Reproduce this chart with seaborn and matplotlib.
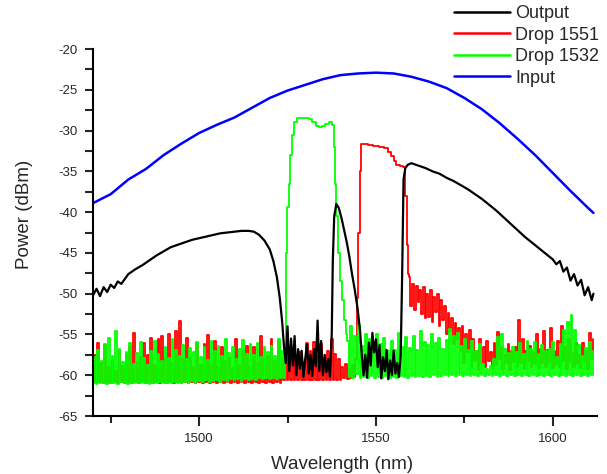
import numpy as np
import matplotlib
matplotlib.use("Agg")
import matplotlib.pyplot as plt
from matplotlib.ticker import MultipleLocator
from matplotlib.lines import Line2D
import seaborn as sns

# ---------------- data ----------------
# Input (blue)
in_wl = [1470, 1475, 1480, 1485, 1490, 1495, 1500, 1505, 1510, 1515, 1520, 1525, 1530,
         1535, 1540, 1545, 1550, 1555, 1560, 1565, 1570, 1575, 1580, 1585, 1590, 1595,
         1600, 1605, 1610, 1611.5]
in_pw = [-38.9, -37.8, -36.0, -34.7, -33.0, -31.6, -30.3, -29.3, -28.4, -27.2, -26.0, -25.1, -24.4,
         -23.7, -23.2, -23.0, -22.9, -23.0, -23.4, -24.0, -24.8, -26.0, -27.4, -29.1, -31.0, -33.0,
         -35.2, -37.4, -39.5, -40.1]

# Output (black)
out_wl = [1470, 1471, 1472, 1473, 1474, 1475, 1476, 1477, 1478, 1480, 1482, 1484, 1486, 1488,
          1490, 1492, 1494, 1496, 1498, 1500, 1502, 1504, 1506, 1508, 1510, 1512, 1514, 1515.5,
          1517, 1518.5, 1520, 1521, 1522, 1522.8, 1523.5, 1524,
          1524.5, 1525, 1525.5, 1526, 1526.5, 1527, 1527.5, 1528, 1528.5, 1529, 1529.5, 1530,
          1530.5, 1531, 1531.5, 1532, 1532.5, 1533, 1533.5, 1534, 1534.5, 1535, 1535.5, 1536,
          1536.5, 1537, 1537.5,
          1537.8, 1538.2, 1538.8, 1539.5, 1540.3, 1541, 1541.8, 1542.5, 1543.2, 1544, 1544.8,
          1545.5, 1546,
          1546.5, 1547, 1547.5, 1548, 1548.5, 1549, 1549.5, 1550, 1550.5, 1551, 1551.5, 1552,
          1552.5, 1553, 1553.5, 1554, 1554.5, 1555, 1555.5, 1556, 1556.5, 1557,
          1557.4, 1557.8, 1558.3, 1559, 1560, 1562, 1564, 1566, 1568, 1570, 1572, 1574, 1576,
          1578, 1580, 1582, 1584, 1586, 1588, 1590, 1592, 1594, 1596, 1598, 1600, 1601, 1602,
          1603, 1604, 1605, 1606, 1607, 1608, 1609, 1610, 1611, 1611.5]
out_pw = [-50.2, -49.4, -50.3, -49.2, -49.8, -48.9, -49.3, -48.5, -48.8, -47.6, -47.0, -46.5, -45.9, -45.3,
          -44.8, -44.3, -44.0, -43.7, -43.4, -43.2, -43.0, -42.8, -42.6, -42.5, -42.4, -42.3, -42.3, -42.4,
          -42.8, -43.5, -44.6, -46.0, -48.0, -50.5, -53.5, -56.5,
          -58.5, -54.0, -59.5, -55.5, -58.8, -55.2, -60.0, -56.8, -59.2, -57.0, -60.2, -58.0,
          -56.2, -59.8, -57.5, -60.1, -56.8, -58.9, -53.3, -59.5, -55.8, -60.0, -57.5, -59.6,
          -58.0, -60.2, -55.0,
          -46.0, -40.5, -39.0, -39.5, -40.8, -42.2, -43.8, -45.5, -47.5, -49.5, -51.8,
          -54.5, -57.5,
          -60.0, -57.5, -60.3, -56.0, -58.8, -54.8, -57.2, -55.6, -59.0, -56.3, -60.4, -57.8,
          -59.5, -56.9, -60.5, -58.2, -60.0, -57.0, -59.8, -58.5, -60.2, -57.5,
          -48.0, -36.0, -34.6, -34.2, -34.0, -34.3, -34.6, -35.0, -35.3, -35.8, -36.2, -36.7, -37.2,
          -37.8, -38.4, -39.1, -39.8, -40.6, -41.4, -42.2, -43.0, -43.7, -44.4, -45.1, -45.8, -46.4, -46.0,
          -47.3, -46.8, -48.4, -47.6, -49.0, -48.3, -50.2, -49.2, -50.8, -50.0]

# Drop 1551 (red): noise floor 1470-1524, floor 1524.5-1544, passband, decaying tail
r_left = [-60.8, -57.5, -60.9, -56.0, -60.8, -58.5, -60.9, -56.3, -60.8, -59.0,
          -60.9, -58.2, -60.8, -59.5, -60.9, -57.0, -60.8, -58.9, -60.9, -57.4,
          -60.8, -56.6, -60.9, -54.8, -60.8, -58.4, -60.9, -57.8, -60.8, -56.0,
          -60.9, -57.5, -60.8, -55.4, -60.9, -58.7, -60.8, -55.6, -60.9, -55.2,
          -60.8, -57.9, -60.9, -55.0, -60.8, -58.5, -60.9, -54.6, -60.8, -53.3,
          -60.9, -58.0, -60.8, -55.4, -60.9, -57.9, -60.8, -59.0, -60.9, -56.0,
          -60.8, -58.7, -60.9, -56.2, -60.8, -55.1, -60.9, -58.6, -60.8, -55.8,
          -60.9, -59.0, -60.8, -56.5, -60.9, -58.2, -60.8, -57.9, -60.9, -59.1,
          -60.8, -55.5, -60.9, -58.8, -60.8, -57.0, -60.9, -56.4, -60.8, -59.0,
          -60.9, -56.6, -60.8, -58.5, -60.9, -55.2, -60.8, -58.0, -60.9, -57.6,
          -60.8, -55.6, -60.9, -58.3, -60.8, -55.8, -60.9, -57.9, -60.6]
r_mid = [-56.3, -60.6, -57.5, -60.6, -56.8, -60.6, -58.0, -60.6, -57.2, -60.6,
         -58.4, -60.6, -56.0, -60.6, -57.0, -60.6, -55.9, -60.6, -57.6, -60.6,
         -56.2, -60.6, -58.3, -60.6, -57.0, -60.6, -55.6, -60.6, -57.4, -60.6,
         -58.0, -60.6, -59.0, -60.4, -58.6, -60.5, -59.2, -60.3, -58.8, -60.2]
r_peak_wl = [1544.4, 1544.8, 1545.2, 1545.6, 1546.0, 1547, 1548.5, 1550, 1551.5, 1553.0,
             1553.8, 1554.6, 1555.4, 1556.2, 1557.2, 1558.2, 1558.5, 1558.8, 1559.2]
r_peak = [-58.0, -50.5, -42.5, -35.0, -31.6, -31.6, -31.8, -31.9, -32.0, -32.1,
          -32.6, -33.1, -33.7, -34.2, -34.3, -34.5, -38.0, -44.0, -47.6]
r_right = [-48.0, -51.5, -48.8, -52.0, -49.0, -51.0, -49.5, -52.5, -49.2, -53.0,
           -50.0, -52.8, -49.6, -53.5, -50.4, -52.2, -50.0, -54.0, -50.8, -53.2,
           -51.5, -55.0, -52.4, -54.6, -53.0, -56.2, -53.6, -55.5, -54.2, -57.0,
           -54.0, -58.5, -55.0, -57.2, -54.5, -59.0, -55.6, -58.2, -57.0, -59.3,
           -55.5, -58.6, -56.5, -59.0, -55.8, -58.2, -57.2, -59.1, -56.0, -58.7,
           -54.7, -58.0, -56.6, -59.2, -57.5, -58.5, -56.2, -59.3, -57.0, -58.4,
           -56.5, -59.0, -53.2, -58.5, -55.6, -59.2, -57.0, -58.3, -56.4, -59.0,
           -57.2, -58.6, -55.0, -59.1, -56.8, -58.5, -54.6, -59.0, -56.9, -58.4,
           -54.2, -59.1, -57.0, -58.6, -55.8, -59.0, -54.0, -58.2, -56.6, -59.2,
           -55.5, -58.4, -57.3, -59.0, -56.1, -58.6, -57.5, -59.1, -56.0, -58.3,
           -57.0, -59.2, -54.8, -58.0, -55.6]

# Drop 1532 (green): noise floor, passband, noise floor
g_left = [-61.0, -57.8, -61.1, -56.9, -60.9, -58.3, -61.0, -56.2, -61.1, -55.4,
          -60.9, -57.6, -61.0, -54.6, -61.1, -56.8, -60.8, -58.4, -61.0, -57.1,
          -61.1, -56.0, -60.9, -58.6, -61.0, -57.3, -61.0, -55.9, -60.9, -57.9,
          -61.0, -58.8, -61.1, -57.0, -60.9, -55.8, -61.0, -57.4, -60.8, -58.2,
          -61.0, -56.6, -60.9, -57.9, -61.0, -55.5, -60.8, -56.9, -61.0, -57.6,
          -60.9, -56.3, -60.8, -58.0, -61.0, -56.7, -60.7, -57.2, -60.9, -55.9,
          -60.7, -57.8, -60.8, -56.5, -60.6, -58.1, -60.8, -55.8, -60.7, -57.0,
          -60.6, -56.4, -60.8, -57.7, -60.6, -55.6, -60.7, -57.3, -60.5, -56.6,
          -60.6, -58.0, -60.5, -56.8, -60.7, -55.7, -60.5, -57.4, -60.6, -56.2,
          -60.5, -57.5, -60.6, -56.0, -60.4, -57.8, -60.5, -56.6, -60.4, -57.2,
          -60.5, -56.4, -60.4, -57.6, -60.5, -55.5, -60.4, -57.0, -60.3]
g_peak_wl = [1524.4, 1524.8, 1525.1, 1525.5, 1526.0, 1526.6, 1527.3, 1528.3, 1529.5, 1530.5,
             1531.5, 1532.5, 1533.5, 1534.3, 1535.2, 1536.2, 1537.2, 1537.8, 1538.2, 1538.6,
             1539.0, 1539.5, 1540.0, 1540.6, 1541.2, 1541.6]
g_peak = [-56.5, -45.0, -39.4, -36.5, -33.0, -30.5, -29.0, -28.5, -28.4, -28.5,
          -28.6, -28.9, -29.4, -29.6, -29.4, -29.2, -29.0, -29.3, -32.0, -36.5,
          -40.5, -45.0, -48.5, -50.8, -53.2, -55.0]
g_right = [-55.8, -60.2, -54.0, -60.3, -55.2, -59.8, -53.8, -60.3, -56.4, -60.2,
           -54.9, -60.3, -55.6, -60.1, -56.8, -60.3, -55.0,
           -60.2, -56.2, -60.3, -55.4, -60.1, -57.0, -60.3, -55.8, -60.2, -56.9,
           -60.3, -54.8, -60.1, -56.5, -60.2, -55.3, -60.3, -56.7, -60.1,
           -55.2, -60.2, -56.9, -60.1, -54.6, -60.2, -55.9, -60.1, -56.3, -60.2,
           -54.9, -60.0, -56.0, -60.2, -55.4, -60.1, -56.8, -60.0, -55.7,
           -60.1, -54.3, -60.0, -55.2, -60.1, -54.8, -60.0, -56.4, -60.1, -55.5,
           -60.0, -56.9, -60.1, -55.8, -60.0, -57.0, -60.1, -56.2, -60.0,
           -58.6, -60.1, -59.2, -60.0, -58.9, -60.1, -58.0, -60.0, -55.3, -60.1,
           -54.9, -60.0, -56.8, -60.1, -57.3, -60.0, -56.5, -60.1, -57.2,
           -60.0, -56.0, -60.1, -57.4, -60.0, -55.8, -60.1, -56.8, -60.0, -55.9,
           -60.1, -57.4, -60.0, -56.3, -60.1, -57.0, -60.0, -56.8, -60.1,
           -55.9, -60.0, -57.8, -60.1, -56.2, -60.0, -54.5, -60.1, -53.5, -60.0,
           -52.6, -60.1, -54.4, -60.0, -56.3, -60.1, -57.6, -60.0, -56.7, -60.1,
           -55.9, -60.0, -57.0]

labels = ["Output", "Drop 1551", "Drop 1532", "Input"]
colors = ["black", "#ff0000", "#00ff00", "#0000ff"]

# sample positions of the noisy parts (0.5 nm grid in the OSA trace)
red_wl = np.concatenate([np.linspace(1470, 1524, len(r_left)),
                         np.linspace(1524.5, 1544, len(r_mid)),
                         r_peak_wl,
                         np.linspace(1559.5, 1611.5, len(r_right))])
red_pw = np.concatenate([r_left, r_mid, r_peak, r_right])
green_wl = np.concatenate([np.linspace(1470, 1524, len(g_left)),
                           g_peak_wl,
                           np.linspace(1542, 1611.5, len(g_right))])
green_pw = np.concatenate([g_left, g_peak, g_right])

# ---------------- plot ----------------
sns.set_style("ticks")
plt.rcParams["font.family"] = ["Liberation Sans", "DejaVu Sans"]
plt.rcParams["axes.unicode_minus"] = False

fig = plt.figure(figsize=(6.07, 4.74), dpi=100)
ax = fig.add_axes([93 / 607, 1 - 416 / 474, 504 / 607, 367 / 474])

sns.lineplot(x=red_wl, y=red_pw, ax=ax, color=colors[1], linewidth=1.3, sort=False,
             estimator=None, drawstyle="steps-mid")
sns.lineplot(x=green_wl, y=green_pw, ax=ax, color=colors[2], linewidth=1.3, sort=False,
             estimator=None, drawstyle="steps-mid")
sns.lineplot(x=out_wl, y=out_pw, ax=ax, color=colors[0], linewidth=1.6, sort=False, estimator=None)
sns.lineplot(x=in_wl, y=in_pw, ax=ax, color=colors[3], linewidth=1.8, sort=False, estimator=None)

ax.set_xlim(1470, 1612.5)
ax.set_ylim(-65, -20)
ax.xaxis.set_major_locator(MultipleLocator(50))
ax.xaxis.set_minor_locator(MultipleLocator(25))
ax.yaxis.set_major_locator(MultipleLocator(5))
ax.yaxis.set_minor_locator(MultipleLocator(2.5))
ax.tick_params(axis="x", which="major", direction="out", length=7, width=1.5, labelsize=9.5, pad=5)
ax.tick_params(axis="x", which="minor", direction="out", length=5, width=1.5)
ax.tick_params(axis="y", which="both", direction="out", length=6, width=1.5, labelsize=9.5, pad=5)

sns.despine(ax=ax)
for s in ["left", "bottom"]:
    ax.spines[s].set_linewidth(1.5)
    ax.spines[s].set_color("black")

ax.set_xlabel("Wavelength (nm)", fontsize=13.5)
ax.set_ylabel("Power (dBm)", fontsize=13.5)
ax.xaxis.set_label_coords(0.494, -0.108)
ax.yaxis.set_label_coords(-0.12, 0.55)

handles = [Line2D([], [], color=c, linewidth=1.8) for c in colors]
fig.legend(handles, labels, loc="upper left", bbox_to_anchor=(454 / 607, 1 - 5 / 474),
           bbox_transform=fig.transFigure, frameon=False, fontsize=13, handlelength=3.1,
           handletextpad=0.3, labelspacing=0.25, borderpad=0, borderaxespad=0)

plt.savefig("out.png", dpi=100)
